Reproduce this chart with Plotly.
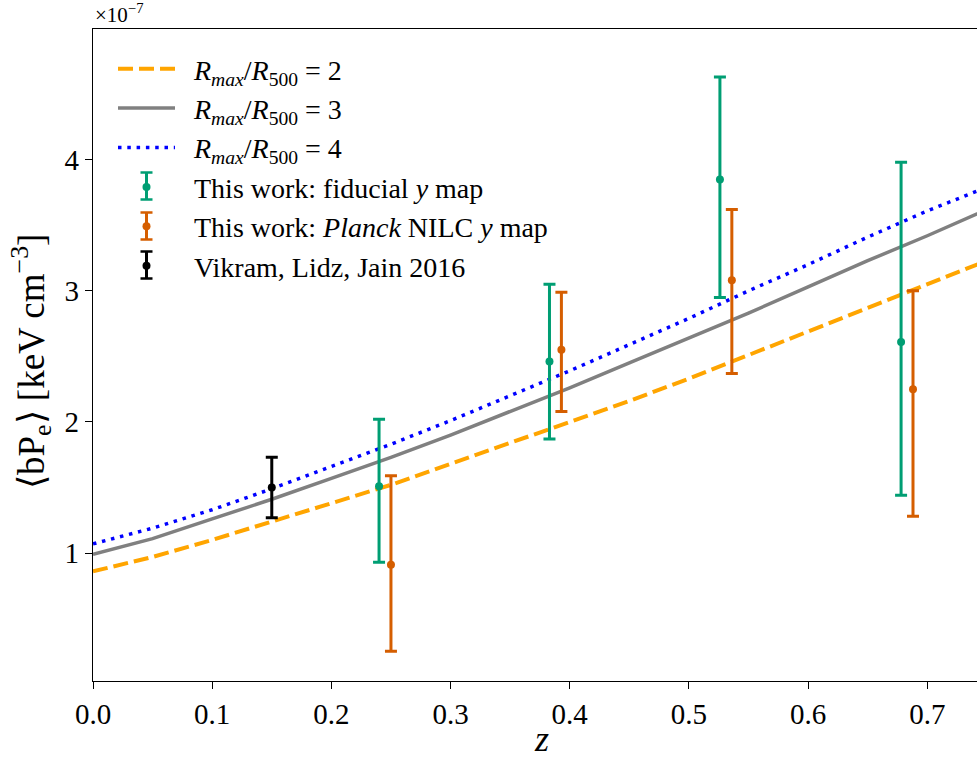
import plotly.graph_objects as go

# ---- data (values in units of 1e-7 keV cm^-3) ----
z_model = [0.0, 0.05, 0.10, 0.15, 0.20, 0.25, 0.30, 0.35, 0.40, 0.45, 0.50, 0.55, 0.60, 0.65, 0.70, 0.75]
rmax2 = [0.86, 0.97, 1.10, 1.24, 1.38, 1.52, 1.68, 1.84, 2.00, 2.16, 2.33, 2.51, 2.69, 2.87, 3.05, 3.23]
rmax3 = [0.99, 1.11, 1.26, 1.41, 1.57, 1.73, 1.90, 2.08, 2.26, 2.45, 2.64, 2.83, 3.03, 3.23, 3.42, 3.62]
rmax4 = [1.07, 1.19, 1.33, 1.49, 1.66, 1.83, 2.01, 2.20, 2.39, 2.59, 2.79, 3.00, 3.20, 3.41, 3.61, 3.79]

z_fid = [0.240, 0.383, 0.526, 0.678]
bpe_fid = [1.51, 2.46, 3.85, 2.61]
err_fid_up = [0.51, 0.59, 0.78, 1.37]
err_fid_dn = [0.58, 0.59, 0.90, 1.17]

z_nilc = [0.250, 0.393, 0.536, 0.688]
bpe_nilc = [0.91, 2.55, 3.08, 2.25]
err_nilc_up = [0.68, 0.44, 0.54, 0.75]
err_nilc_dn = [0.66, 0.47, 0.71, 0.97]

z_vlj = [0.15]
bpe_vlj = [1.50]
err_vlj_up = [0.23]
err_vlj_dn = [0.23]

x_ticks = [0.0, 0.1, 0.2, 0.3, 0.4, 0.5, 0.6, 0.7]
y_ticks = [1, 2, 3, 4]

FONT = "Liberation Serif"
W, H = 977, 761
ML, MR, MT, MB = 93, 0, 29, 80
PW, PH = W - ML - MR, H - MT - MB

def px(xp):
    return (xp - ML) / PW

def py(yp):
    return 1 - (yp - MT) / PH

fig = go.Figure()

SP = "\u00a0\u00a0"
fig.add_trace(go.Scatter(
    x=z_model, y=rmax2, mode="lines",
    name=SP + "<i>R<sub>max</sub></i>/<i>R</i><sub>500</sub> = 2",
    line=dict(color="#FFA500", width=4, dash="15px,6px")))
fig.add_trace(go.Scatter(
    x=z_model, y=rmax3, mode="lines",
    name=SP + "<i>R<sub>max</sub></i>/<i>R</i><sub>500</sub> = 3",
    line=dict(color="#808080", width=3.5)))
fig.add_trace(go.Scatter(
    x=z_model, y=rmax4, mode="lines",
    name=SP + "<i>R<sub>max</sub></i>/<i>R</i><sub>500</sub> = 4",
    line=dict(color="#0000FF", width=3.5, dash="3.5px,5.8px")))

def eb(x, y, up, dn, color, name):
    return go.Scatter(
        x=x, y=y, mode="markers", name=SP + name,
        marker=dict(color=color, size=8),
        error_y=dict(type="data", symmetric=False, array=up, arrayminus=dn,
                     color=color, thickness=3, width=6))

fig.add_trace(eb(z_fid, bpe_fid, err_fid_up, err_fid_dn, "#009E73",
                 "This work: fiducial <i>y</i> map"))
fig.add_trace(eb(z_nilc, bpe_nilc, err_nilc_up, err_nilc_dn, "#D55E00",
                 "This work: <i>Planck</i> NILC <i>y</i> map"))
fig.add_trace(eb(z_vlj, bpe_vlj, err_vlj_up, err_vlj_dn, "#000000",
                 "Vikram, Lidz, Jain 2016"))

# legend error-bar glyphs (decoration drawn over the native legend markers)
glyph_rows = [(186.0, "#009E73"), (226.0, "#D55E00"), (265.0, "#000000")]
shapes = []
gx = 146.5
for yc, col in glyph_rows:
    shapes.append(dict(type="line", xref="paper", yref="paper",
                       x0=px(gx), x1=px(gx), y0=py(yc - 13.5), y1=py(yc + 13.5),
                       line=dict(color=col, width=3)))
    for yy in (yc - 13.5, yc + 13.5):
        shapes.append(dict(type="line", xref="paper", yref="paper",
                           x0=px(gx - 6), x1=px(gx + 6), y0=py(yy), y1=py(yy),
                           line=dict(color=col, width=2.5)))

axis_common = dict(
    showgrid=False, zeroline=False, showline=True, linecolor="black", linewidth=1.3,
    ticks="outside", ticklen=7, tickwidth=1.3, tickcolor="black",
    tickfont=dict(family=FONT, size=29, color="black"),
)

fig.update_layout(
    width=W, height=H,
    margin=dict(l=ML, r=MR, t=MT, b=MB),
    paper_bgcolor="white", plot_bgcolor="white",
    showlegend=True,
    legend=dict(
        x=px(113), y=py(44), xanchor="left", yanchor="top",
        bgcolor="rgba(0,0,0,0)", borderwidth=0,
        font=dict(family=FONT, size=28, color="black"),
        itemwidth=57, traceorder="normal",
    ),
    xaxis=dict(range=[0, 0.7417], tickvals=x_ticks, tickformat=".1f",
               mirror=True, **axis_common),
    yaxis=dict(range=[0.024, 4.997], tickvals=y_ticks, mirror=False, **axis_common),
    shapes=shapes,
    annotations=[
        dict(text="×10<sup>−7</sup>", xref="paper", yref="paper", x=0.0, y=1.0,
             xanchor="left", yanchor="bottom", yshift=0, showarrow=False,
             font=dict(family=FONT, size=21, color="black")),
        dict(text="⟨bP<sub>e</sub>⟩ [keV cm<sup>−3</sup>]", xref="paper", yref="paper",
             x=px(31), y=py(362), xanchor="center", yanchor="middle", textangle=-90,
             showarrow=False, font=dict(family=FONT, size=37, color="black")),
        dict(text="<i>z</i>", xref="paper", yref="paper", x=px(541), y=py(H),
             xanchor="center", yanchor="bottom", showarrow=False,
             font=dict(family=FONT, size=36, color="black")),
    ],
)

fig.write_html("out.html")
